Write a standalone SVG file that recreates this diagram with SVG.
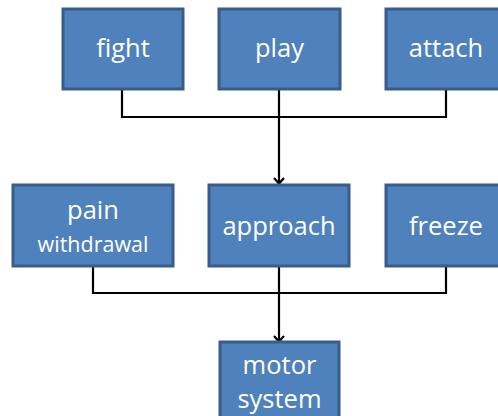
<svg xmlns="http://www.w3.org/2000/svg" width="498" height="416" viewBox="0 0 498 416">
<style>
.box{fill:#4F81BD;stroke:#385D8A;stroke-width:3}
.t{fill:#fff;font-family:"Open Sans","Liberation Sans",sans-serif;font-size:25.5px;text-anchor:middle}
.s{font-size:21.5px}
.c{fill:none;stroke:#000;stroke-width:2.2}
</style>
<defs>
<marker id="arr" markerWidth="12" markerHeight="12" refX="6" refY="6" orient="auto" markerUnits="userSpaceOnUse" viewBox="0 0 12 12">
<path d="M1,1 L6.5,6 L1,11" fill="none" stroke="#000" stroke-width="2.2"/>
</marker>
</defs>
<g id="connectors">
<path class="c" d="M122,89 V117 H446 V89"/>
<path class="c" d="M279,89 V183" marker-end="url(#arr)"/>
<path class="c" d="M93,266 V293 H446 V266"/>
<path class="c" d="M279,266 V341" marker-end="url(#arr)"/>
</g>
<g id="fight"><rect class="box" x="63" y="9" width="120" height="80"/><text class="t" x="123" y="57">fight</text></g>
<g id="play"><rect class="box" x="219" y="9" width="121" height="80"/><text class="t" x="279.5" y="57">play</text></g>
<g id="attach"><rect class="box" x="386" y="9" width="120" height="80"/><text class="t" x="446" y="57">attach</text></g>
<g id="pain"><rect class="box" x="13" y="185" width="160" height="81"/><text class="t" x="93" y="219">pain</text><text class="t s" x="93" y="252">withdrawal</text></g>
<g id="approach"><rect class="box" x="209" y="185" width="140" height="81"/><text class="t" x="279" y="235">approach</text></g>
<g id="freeze"><rect class="box" x="386" y="185" width="120" height="81"/><text class="t" x="446" y="235">freeze</text></g>
<g id="motor"><rect class="box" x="220" y="342" width="119" height="90"/><text class="t" x="279.5" y="374">motor</text><text class="t" x="279.5" y="408">system</text></g>
</svg>
